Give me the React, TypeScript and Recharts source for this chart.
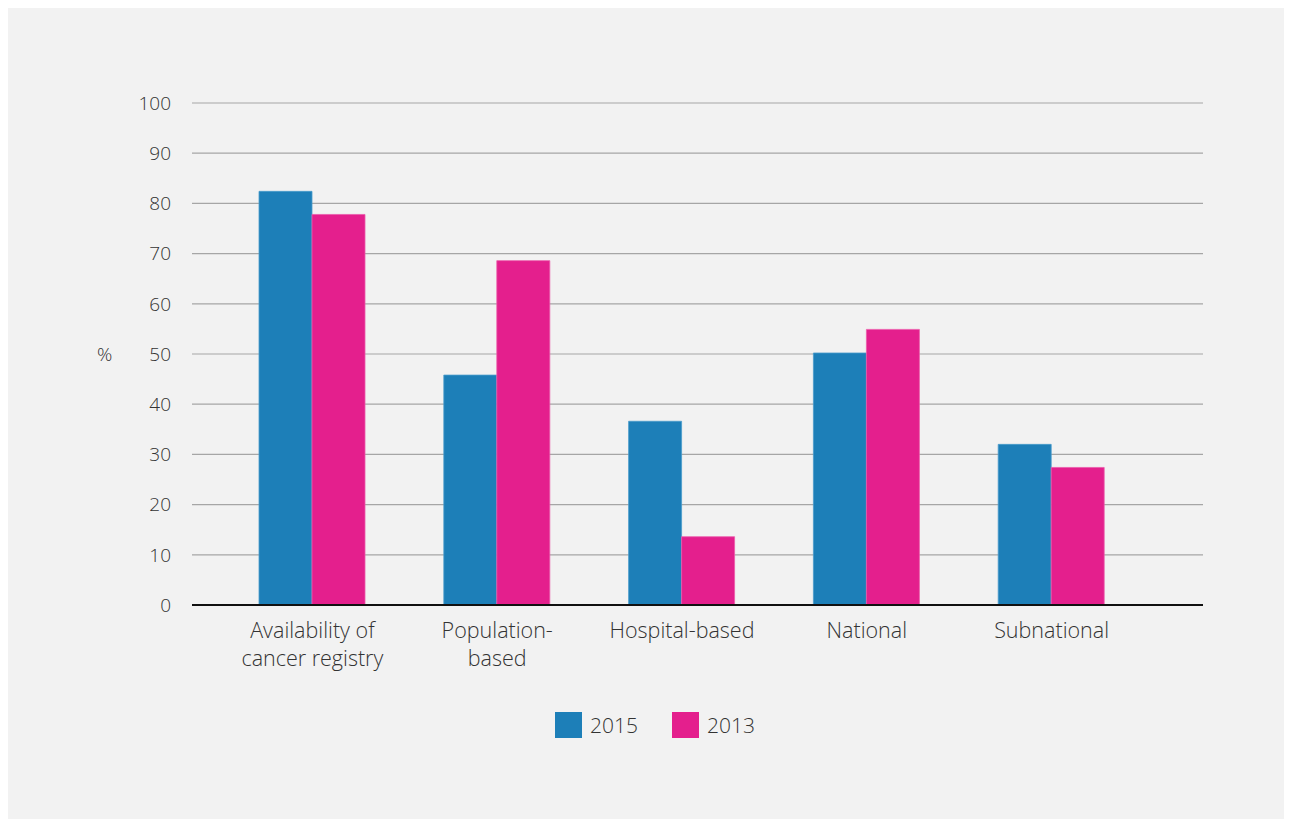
import React from 'react';
import {
    BarChart,
    Bar,
    XAxis,
    YAxis,
    CartesianGrid,
    Legend,
} from 'recharts';

const categories = [
    'Availability of\ncancer registry',
    'Population-\nbased',
    'Hospital-based',
    'National',
    'Subnational',
];
const values2015 = [82.4, 45.8, 36.6, 50.2, 32.0];
const values2013 = [77.8, 68.6, 13.6, 54.9, 27.4];
const yTicks = [0, 10, 20, 30, 40, 50, 60, 70, 80, 90, 100];

const seriesList = [
    { key: 'y2015', name: '2015', color: '#1d7fb8', edge: '#4a9ccc' },
    { key: 'y2013', name: '2013', color: '#e41f8d', edge: '#ec5aab' },
];

const FONT = '"Open Sans", "Segoe UI", sans-serif';
const TEXT = '#333333';

const chartData = categories.map((c, i) => ({
    category: c,
    y2015: values2015[i],
    y2013: values2013[i],
}));

const CategoryTick = (props: any) => {
    const { x, y, payload } = props;
    const lines = String(payload.value).split('\n');
    return (
        <text
            x={x}
            y={y}
            textAnchor="middle"
            fill={TEXT}
            fontSize={21.5}
            fontWeight={300}
            fontFamily={FONT}
        >
            {lines.map((line, i) => (
                <tspan key={i} x={x} y={y + 25 + i * 28}>
                    {line}
                </tspan>
            ))}
        </text>
    );
};

const LegendBox = () => (
    <div
        style={{
            display: 'flex',
            justifyContent: 'center',
            alignItems: 'center',
            height: 26,
            fontFamily: FONT,
            fontWeight: 300,
            fontSize: 21,
            color: TEXT,
        }}
    >
        {seriesList.map((s, i) => (
            <div
                key={s.key}
                style={{ display: 'flex', alignItems: 'center', marginLeft: i === 0 ? 0 : 34 }}
            >
                <span style={{ width: 27, height: 26, background: s.color, marginRight: 8 }} />
                <span style={{ lineHeight: '26px' }}>{s.name}</span>
            </div>
        ))}
    </div>
);

export default function App() {
    return (
        <div
            style={{
                marginLeft: -2,
                paddingLeft: 2,
                boxSizing: 'border-box',
                width: 1284,
                height: 811,
                background: '#f2f2f2',
            }}
        >
            <BarChart
                width={1282}
                height={810}
                data={chartData}
                margin={{ top: 95, right: 87, left: 0, bottom: 127 }}
                barGap={0}
                barSize={53}
            >
                <CartesianGrid vertical={false} stroke="#a6a6a6" strokeWidth={1.2} />
                <XAxis
                    dataKey="category"
                    interval={0}
                    height={60}
                    tickLine={false}
                    axisLine={{ stroke: '#111111', strokeWidth: 2 }}
                    tick={<CategoryTick />}
                    padding={{ left: 28, right: 59 }}
                />
                <YAxis
                    width={184}
                    domain={[0, 100]}
                    ticks={yTicks}
                    interval={0}
                    axisLine={false}
                    tickLine={false}
                    tickSize={0}
                    tickMargin={21}
                    tick={{ fill: TEXT, fontSize: 19, fontWeight: 300, fontFamily: FONT }}
                    label={{
                        value: '%',
                        position: 'insideLeft',
                        offset: 89,
                        fill: TEXT,
                        fontSize: 19,
                        fontWeight: 300,
                        fontFamily: FONT,
                    }}
                />
                <Legend
                    verticalAlign="bottom"
                    content={<LegendBox />}
                    wrapperStyle={{ left: 0, width: 1294, top: 704, bottom: 'auto' }}
                />
                {seriesList.map((s) => (
                    <Bar
                        key={s.key}
                        dataKey={s.key}
                        name={s.name}
                        fill={s.color}
                        stroke={s.edge}
                        strokeWidth={0.8}
                        isAnimationActive={false}
                    />
                ))}
            </BarChart>
        </div>
    );
}
